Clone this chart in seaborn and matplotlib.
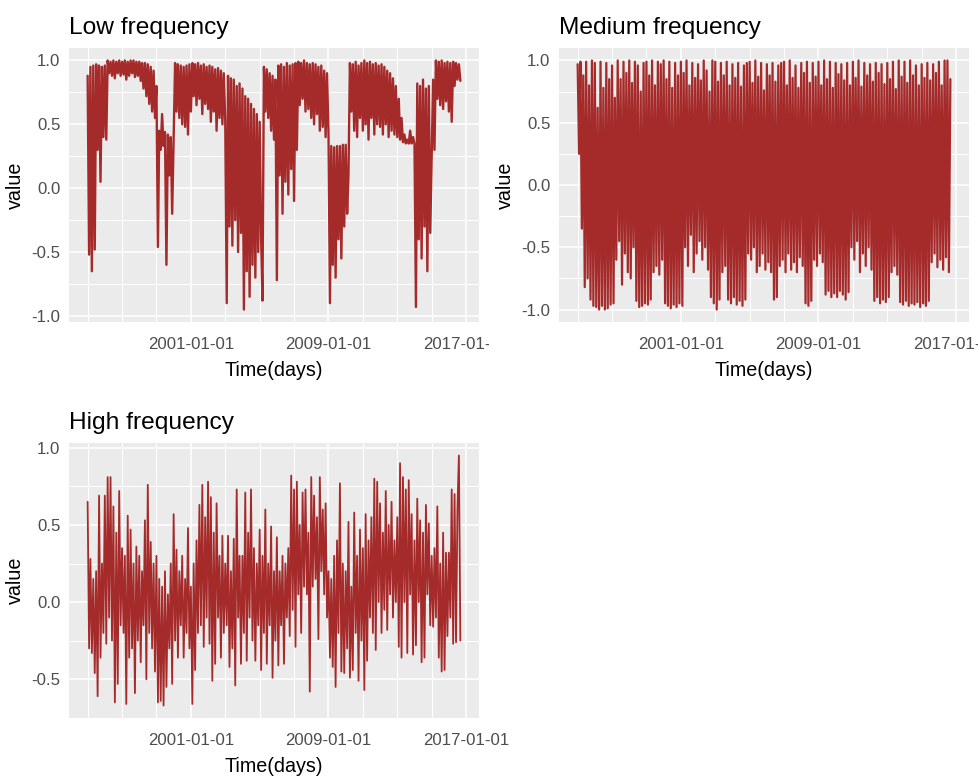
import numpy as np
import pandas as pd
import matplotlib
matplotlib.use("Agg")
import matplotlib.pyplot as plt
import matplotlib.dates as mdates
from matplotlib import font_manager
from matplotlib.transforms import Bbox, TransformedBbox
import seaborn as sns

# ---------------- data (monthly readings, Jan 1995 .. Sep 2016) ----------------
start_date = "1995-01-01"
titles = ["Low frequency", "Medium frequency", "High frequency"]
x_tick_dates = ["2001-01-01", "2009-01-01", "2017-01-01"]
x_grid_years = [1995, 1997, 1999, 2003, 2005, 2007, 2011, 2013, 2015]

low_freq = [
    0.88, -0.52, 0.95, -0.65, 0.96, -0.48, 0.97, 0.30, 0.96, 0.05, 0.95, 0.40,    # 1995
    0.96, 0.38, 1.00, 0.90, 0.99, 0.88, 1.00, 0.86, 0.99, 0.90, 1.00, 0.88,       # 1996
    0.99, 0.89, 1.00, 0.85, 0.99, 0.88, 1.00, 0.90, 1.00, 0.87, 0.99, 0.88,       # 1997
    0.99, 0.84, 0.98, 0.78, 0.98, 0.72, 0.97, 0.66, 0.95, 0.60, 0.92, 0.55,       # 1998
    0.80, -0.46, 0.45, 0.30, 0.58, 0.33, 0.44, -0.60, 0.42, 0.10, 0.40, -0.20,    # 1999
    0.40, 0.98, 0.60, 0.97, 0.55, 0.96, 0.50, 0.95, 0.48, 0.96, 0.42, 0.97,       # 2000
    0.60, 0.98, 0.72, 0.97, 0.65, 0.98, 0.70, 0.96, 0.58, 0.97, 0.66, 0.95,       # 2001
    0.62, 0.96, 0.52, 0.95, 0.60, 0.93, 0.45, 0.94, 0.55, 0.92, 0.50, 0.90,       # 2002
    0.52, -0.90, 0.88, -0.30, 0.86, -0.45, 0.85, -0.25, 0.80, -0.50, 0.82, -0.35, # 2003
    0.78, -0.95, 0.72, -0.65, 0.70, -0.85, 0.66, -0.60, 0.62, -0.70, 0.58, -0.50, # 2004
    0.52, -0.40, -0.88, 0.95, 0.60, 0.93, 0.55, 0.90, 0.45, 0.88, 0.38, 0.85,     # 2005
    -0.72, 0.96, 0.10, 0.97, -0.20, 0.95, 0.05, 0.98, -0.05, 0.96, 0.15, 0.97,    # 2006
    -0.10, 0.98, 0.30, 0.99, 0.65, 0.98, 0.70, 1.00, 0.60, 0.98, 0.62, 0.97,      # 2007
    0.55, 0.98, 0.50, 0.97, 0.58, 0.95, 0.45, 0.96, 0.48, 0.92, 0.40, 0.90,       # 2008
    0.42, -0.90, 0.33, -0.60, 0.32, -0.70, 0.33, -0.40, 0.33, -0.55, 0.34, -0.30, # 2009
    0.34, -0.20, 0.10, 0.98, 0.60, 0.97, 0.45, 0.99, 0.40, 0.96, 0.55, 0.98,      # 2010
    0.45, 1.00, 0.50, 0.98, 0.38, 0.99, 0.55, 0.97, 0.42, 0.98, 0.50, 0.96,       # 2011
    0.48, 0.97, 0.42, 0.95, 0.50, 0.92, 0.40, 0.90, 0.45, 0.86, 0.42, 0.80,       # 2012
    0.40, 0.70, 0.38, 0.55, 0.36, 0.42, 0.35, 0.38, 0.35, 0.45, 0.35, 0.40,       # 2013
    0.35, -0.93, 0.82, -0.40, 0.80, -0.55, 0.85, -0.30, 0.78, -0.65, 0.80, -0.35, # 2014
    0.25, 0.85, 0.30, 1.00, 0.70, 0.99, 0.65, 1.00, 0.62, 0.98, 0.68, 0.99,       # 2015
    0.60, 0.98, 0.52, 0.99, 0.80, 0.98, 0.85, 0.97, 0.84,                         # 2016
]

medium_freq = [
    0.97, 0.25, 0.99, -0.35, 0.88, -0.82, 0.99, -0.75, 0.80, -0.92, 1.00, -0.97,  # 1995
    0.98, -0.98, 0.62, -1.00, 0.99, -0.97, 0.78, -1.00, 0.98, -0.99, 0.85, -0.96, # 1996
    0.96, -0.95, 0.70, -0.60, 1.00, -0.45, 0.85, -0.80, 0.99, -0.55, 0.90, -0.70, # 1997
    1.00, -0.75, 0.82, -0.50, 0.99, -0.93, 0.96, -0.98, 0.75, -0.97, 0.98, -0.95, # 1998
    0.99, -0.96, 0.88, -0.92, 1.00, -0.70, 0.80, -0.65, 0.99, -0.72, 0.97, -0.60, # 1999
    1.00, -0.95, 0.85, -0.97, 0.99, -0.99, 0.78, -0.96, 0.98, -0.98, 0.88, -0.95, # 2000
    0.99, -0.97, 0.90, -0.50, 1.00, -0.65, 0.80, -0.40, 0.98, -0.70, 0.86, -0.55, # 2001
    0.97, -0.45, 0.84, -0.60, 1.00, -0.50, 0.92, -0.68, 0.75, -0.90, 1.00, -0.95, # 2002
    0.99, -1.00, 0.83, -0.92, 0.98, -0.70, 0.88, -0.65, 0.99, -0.92, 0.80, -0.95, # 2003
    0.97, -0.90, 0.86, -0.96, 0.98, -0.93, 0.79, -0.97, 0.96, -0.92, 0.98, -0.55, # 2004
    0.99, -0.60, 0.82, -0.50, 1.00, -0.70, 0.87, -0.65, 0.98, -0.55, 0.76, -0.68, # 2005
    0.97, -0.62, 0.88, -0.70, 0.98, -0.92, 0.83, -0.90, 0.96, -0.65, 0.98, -0.60, # 2006
    0.99, -0.70, 0.80, -0.55, 1.00, -0.68, 0.86, -0.62, 0.96, -0.70, 0.78, -0.58, # 2007
    0.98, -0.65, 0.90, -0.95, 0.99, -0.97, 0.82, -0.93, 0.98, -0.60, 0.87, -0.65, # 2008
    0.99, -0.55, 0.80, -0.62, 1.00, -0.88, 0.85, -0.85, 0.99, -0.90, 0.78, -0.87, # 2009
    0.98, -0.90, 0.89, -0.85, 0.97, -0.88, 0.84, -0.92, 0.98, -0.86, 0.80, -0.50, # 2010
    0.99, -0.60, 0.86, -0.45, 1.00, -0.70, 0.79, -0.55, 0.98, -0.65, 0.88, -0.50, # 2011
    0.97, -0.68, 0.83, -0.93, 0.98, -0.90, 0.90, -0.95, 0.97, -0.92, 0.81, -0.94, # 2012
    0.98, -0.90, 0.85, -0.70, 0.99, -0.65, 0.77, -0.72, 1.00, -0.94, 0.87, -0.96, # 2013
    0.99, -0.93, 0.82, -0.97, 1.00, -0.95, 0.88, -0.96, 0.96, -0.94, 0.80, -0.98, # 2014
    0.97, -0.95, 0.86, -0.97, 0.98, -0.93, 0.84, -0.62, 0.97, -0.55, 0.90, -0.66, # 2015
    0.99, -0.60, 0.80, -0.68, 1.00, -0.58, 1.00, -0.70, 0.85,                     # 2016
]

high_freq = [
    0.65, -0.30, 0.28, -0.33, 0.15, -0.46, 0.20, -0.61, 0.69, -0.36, 0.25, -0.20, # 1995
    0.69, -0.27, 0.81, -0.10, 0.81, -0.25, 0.62, -0.65, 0.45, -0.53, 0.72, -0.15, # 1996
    0.35, -0.20, 0.30, -0.66, 0.56, -0.36, 0.47, -0.30, 0.25, -0.59, 0.36, -0.25, # 1997
    0.30, -0.39, 0.20, -0.15, 0.53, -0.50, 0.76, -0.20, 0.39, -0.30, 0.25, -0.45, # 1998
    0.30, -0.65, 0.15, -0.64, 0.10, -0.67, 0.20, -0.55, 0.05, -0.30, 0.25, -0.53, # 1999
    0.57, -0.25, 0.34, -0.36, 0.20, -0.15, 0.30, -0.36, 0.15, -0.20, 0.48, -0.30, # 2000
    0.10, -0.66, 0.25, -0.44, 0.40, -0.20, 0.63, -0.15, 0.76, -0.29, 0.55, -0.10, # 2001
    0.78, -0.27, 0.68, -0.51, 0.45, -0.40, 0.64, -0.10, 0.30, -0.36, 0.43, -0.20, # 2002
    0.25, -0.15, 0.43, -0.42, 0.20, -0.30, 0.41, -0.54, 0.73, -0.10, 0.30, -0.40, # 2003
    0.30, -0.20, 0.71, -0.38, 0.45, -0.10, 0.73, -0.25, 0.35, -0.38, 0.25, -0.15, # 2004
    0.47, -0.44, 0.30, -0.20, 0.60, -0.40, 0.25, -0.15, 0.49, -0.49, 0.20, -0.25, # 2005
    0.42, -0.41, 0.20, -0.15, 0.30, -0.40, 0.25, -0.10, 0.35, -0.22, 0.82, -0.05, # 2006
    0.73, -0.29, 0.78, 0.05, 0.50, -0.20, 0.71, 0.10, 0.73, 0.05, 0.45, -0.58,    # 2007
    0.81, 0.10, 0.69, 0.15, 0.55, -0.24, 0.81, 0.20, 0.60, 0.05, 0.64, -0.10,     # 2008
    0.20, -0.36, 0.15, -0.42, 0.30, -0.55, 0.40, -0.20, 0.77, -0.45, 0.25, -0.46, # 2009
    0.20, -0.30, 0.52, -0.49, 0.10, -0.44, 0.58, -0.20, 0.30, -0.51, 0.47, -0.25, # 2010
    0.35, -0.57, 0.57, -0.38, 0.40, -0.10, 0.55, -0.20, 0.80, -0.31, 0.78, 0.00,  # 2011
    0.64, -0.20, 0.45, -0.05, 0.72, -0.18, 0.50, 0.05, 0.65, -0.10, 0.40, 0.00,   # 2012
    0.55, -0.29, 0.90, -0.36, 0.81, 0.00, 0.73, -0.33, 0.79, 0.05, 0.57, -0.34,   # 2013
    0.40, -0.28, 0.67, 0.00, 0.53, -0.39, 0.45, -0.36, 0.63, 0.05, 0.51, -0.15,   # 2014
    0.30, -0.16, 0.35, -0.10, 0.62, -0.36, 0.25, -0.45, 0.45, -0.44, 0.32, -0.22, # 2015
    0.32, -0.10, 0.73, -0.27, 0.70, -0.26, 0.60, 0.95, -0.25,                     # 2016
]

# ---------------- styling ----------------
sns.set_theme(style="darkgrid")


def pick_font():
    for name in ["Liberation Sans Narrow", "Arial Narrow", "Liberation Sans"]:
        try:
            font_manager.findfont(font_manager.FontProperties(family=name),
                                  fallback_to_default=False)
            return name
        except Exception:
            pass
    return "DejaVu Sans"


FONT = pick_font()
scale = 1.0 if "Narrow" in FONT else 0.86
plt.rcParams["font.family"] = [FONT, "DejaVu Sans"]

LINE_COLOR = "#A52A2A"
PANEL_BG = "#EBEBEB"
W, H = 979, 778

fig = plt.figure(figsize=(W / 100, H / 100), dpi=100)
fig.patch.set_facecolor("white")


def add_px_axes(x0, y0, x1, y1):
    return fig.add_axes([x0 / W, 1 - y1 / H, (x1 - x0) / W, (y1 - y0) / H])


panels = [
    (titles[0], low_freq, (69, 48, 479, 322), 489, 1.7),
    (titles[1], medium_freq, (559, 48, 969, 322), 979, 1.6),
    (titles[2], high_freq, (69, 443, 479, 718), None, 1.3),
]

for title, values, box, clip_right, lw in panels:
    ax = add_px_axes(*box)
    df = pd.DataFrame({
        "date": pd.date_range(start_date, periods=len(values), freq="MS"),
        "value": values,
    })
    sns.lineplot(data=df, x="date", y="value", ax=ax, color=LINE_COLOR,
                 linewidth=lw, estimator=None, zorder=3)

    # limits with ggplot-like 5% expansion
    d0 = mdates.date2num(df["date"].iloc[0])
    d1 = mdates.date2num(df["date"].iloc[-1])
    span = d1 - d0
    ax.set_xlim(d0 - 0.05 * span, d1 + 0.05 * span)
    vmin, vmax = min(values), max(values)
    vr = vmax - vmin
    ylo, yhi = vmin - 0.05 * vr, vmax + 0.05 * vr
    ax.set_ylim(ylo, yhi)

    # ticks & grid
    ax.set_xticks([mdates.date2num(pd.Timestamp(d)) for d in x_tick_dates])
    ax.set_xticks([mdates.date2num(pd.Timestamp(f"{y}-01-01")) for y in x_grid_years],
                  minor=True)
    ax.xaxis.set_major_formatter(mdates.DateFormatter("%Y-%m-%d"))
    maj = [v for v in np.arange(-1.0, 1.01, 0.5) if ylo <= v <= yhi]
    mnr = [v for v in np.arange(-0.75, 1.0, 0.5) if ylo <= v <= yhi]
    ax.set_yticks(maj)
    ax.set_yticks(mnr, minor=True)
    ax.set_yticklabels([f"{v:.1f}" for v in maj])

    ax.set_facecolor(PANEL_BG)
    for s in ax.spines.values():
        s.set_visible(False)
    ax.grid(which="major", color="white", linewidth=1.1, zorder=0)
    ax.grid(which="minor", color="white", linewidth=0.75, zorder=0)
    ax.set_axisbelow(True)

    ax.tick_params(which="major", length=3.6, width=0.9, color="#333333",
                   labelcolor="#4D4D4D", labelsize=14 * scale, pad=2.5)
    ax.tick_params(which="minor", length=0)
    ax.tick_params(axis="x", pad=7)

    ax.set_xlabel("Time(days)", fontsize=16.5 * scale, color="black", labelpad=7)
    ax.set_ylabel("value", fontsize=16.5 * scale, color="black", labelpad=5)
    ax.set_title(title, loc="left", fontsize=20.5 * scale, color="black", pad=10)

    if clip_right is not None:
        clip = TransformedBbox(Bbox.from_extents(0, 0, clip_right / W, 1),
                               fig.transFigure)
        for lab in ax.get_xticklabels():
            lab.set_clip_on(True)
            lab.set_clip_box(clip)

fig.savefig("out.png", dpi=100, facecolor="white")
